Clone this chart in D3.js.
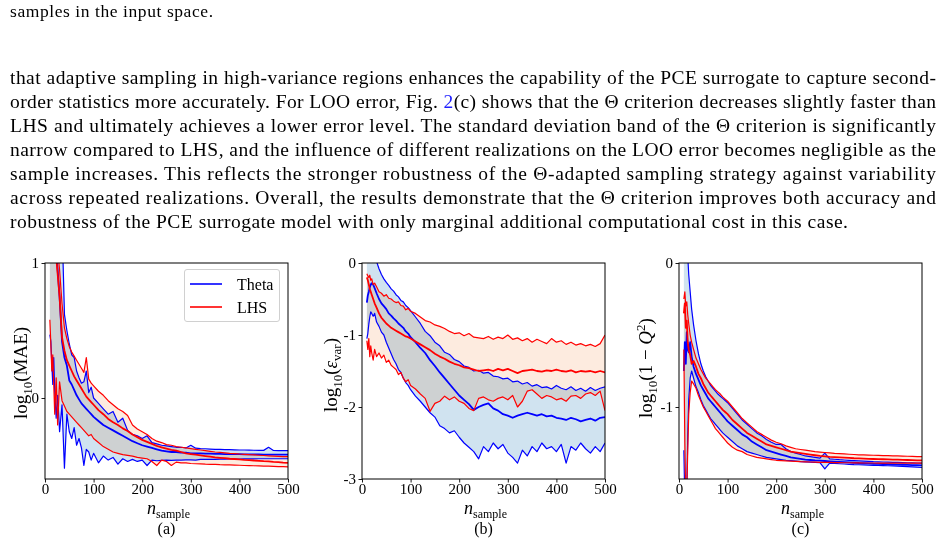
<!DOCTYPE html>
<html>
<head>
<meta charset="utf-8">
<script src="https://cdn.jsdelivr.net/npm/d3@7"></script>
<style>
  body { margin: 0; background: #fff; }
  svg text { font-family: "Liberation Serif", "Times New Roman", serif; fill: #000; }
</style>
</head>
<body>
<svg id="fig" width="946" height="543"></svg>
<script>
// sample counts shared by every curve
const nSample = [10, 12, 14, 16, 18, 20, 23, 26, 30, 35, 40, 45, 50, 55, 60, 65, 70, 75, 80, 85, 90, 95, 100,
  110, 120, 130, 140, 150, 160, 170, 180, 190, 200,
  210, 220, 230, 240, 250, 260, 270, 280, 290, 300,
  310, 320, 330, 340, 350, 360, 370, 380, 390, 400,
  410, 420, 430, 440, 450, 460, 470, 480, 490, 500];
const xTicks = [0, 100, 200, 300, 400, 500];

// (a) log10(MAE)
const thetaUpA = [2.2, 2.1, 2.0, 1.9, 1.8, 1.7, 1.5, 1.35, 1.2, 1.3, 0.62, 0.5, 0.4, 0.32, 0.3, 0.2, 0.15, 0.11, 0.12, 0.2, 0.04, 0.08, 0.0,
  -0.04, -0.08, -0.12, -0.1, -0.18, -0.15, -0.24, -0.27, -0.28, -0.3,
  -0.28, -0.33, -0.34, -0.35, -0.355, -0.36, -0.365, -0.365, -0.37, -0.35,
  -0.372, -0.375, -0.376, -0.378, -0.38, -0.38, -0.382, -0.383, -0.384, -0.385,
  -0.385, -0.386, -0.387, -0.388, -0.388, -0.365, -0.389, -0.39, -0.39, -0.39];
const thetaMeanA = [1.6, 1.5, 1.45, 1.35, 1.3, 1.2, 1.1, 0.95, 0.75, 0.42, 0.3, 0.24, 0.13, 0.1, 0.06, 0.02, -0.01, -0.04, -0.06, -0.08, -0.1, -0.12, -0.14,
  -0.17, -0.2, -0.22, -0.24, -0.26, -0.28, -0.3, -0.32, -0.335, -0.35,
  -0.36, -0.37, -0.38, -0.39, -0.395, -0.4, -0.4, -0.405, -0.405, -0.41,
  -0.41, -0.41, -0.412, -0.412, -0.414, -0.414, -0.415, -0.415, -0.416, -0.416,
  -0.417, -0.417, -0.418, -0.418, -0.419, -0.419, -0.42, -0.42, -0.42, -0.42];
const thetaLoA = [0.47, 0.42, 0.25, 0.1, 0.3, 0.05, -0.15, 0.02, -0.25, -0.05, -0.52, -0.12, -0.25, -0.3, -0.22, -0.35, -0.3, -0.37, -0.5, -0.38, -0.4, -0.46, -0.41,
  -0.48, -0.43, -0.46, -0.44, -0.49, -0.45, -0.47, -0.455, -0.47, -0.46,
  -0.5, -0.46, -0.465, -0.462, -0.46, -0.462, -0.46, -0.46, -0.458, -0.458,
  -0.46, -0.455, -0.455, -0.455, -0.454, -0.453, -0.453, -0.452, -0.452, -0.452,
  -0.451, -0.451, -0.451, -0.45, -0.45, -0.45, -0.45, -0.45, -0.45, -0.45];
const lhsUpA = [2.2, 2.0, 1.8, 1.6, 1.45, 1.35, 1.2, 1.1, 0.95, 0.7, 0.52, 0.44, 0.38, 0.34, 0.31, 0.28, 0.25, 0.22, 0.19, 0.3, 0.14, 0.11, 0.09,
  0.05, 0.02, -0.02, -0.05, -0.08, -0.1, -0.13, -0.2, -0.23, -0.25,
  -0.27, -0.3, -0.32, -0.33, -0.345, -0.35, -0.36, -0.365, -0.37, -0.375,
  -0.38, -0.385, -0.39, -0.395, -0.4, -0.403, -0.406, -0.41, -0.412, -0.415,
  -0.417, -0.42, -0.422, -0.424, -0.426, -0.428, -0.43, -0.432, -0.434, -0.435];
const lhsMeanA = [1.9, 1.7, 1.55, 1.4, 1.3, 1.2, 1.05, 0.92, 0.75, 0.45, 0.35, 0.28, 0.24, 0.2, 0.16, 0.13, 0.1, 0.07, 0.04, 0.01, -0.01, -0.03, -0.05,
  -0.09, -0.12, -0.155, -0.18, -0.2, -0.225, -0.245, -0.27, -0.29, -0.31,
  -0.325, -0.34, -0.355, -0.365, -0.375, -0.385, -0.39, -0.4, -0.41, -0.415,
  -0.42, -0.425, -0.43, -0.435, -0.44, -0.443, -0.446, -0.45, -0.452, -0.455,
  -0.458, -0.46, -0.463, -0.465, -0.468, -0.47, -0.473, -0.475, -0.478, -0.48];
const lhsLoA = [0.58, 0.4, 0.2, 0.32, 0.1, -0.12, 0.15, -0.2, 0.12, -0.02, -0.06, -0.1, -0.12, -0.14, -0.16, -0.18, -0.2, -0.22, -0.24, -0.26, -0.28, -0.27, -0.3,
  -0.33, -0.36, -0.38, -0.4, -0.41, -0.42, -0.425, -0.43, -0.44, -0.445,
  -0.45, -0.47, -0.5, -0.46, -0.47, -0.5, -0.475, -0.48, -0.48, -0.485,
  -0.487, -0.488, -0.49, -0.491, -0.492, -0.494, -0.495, -0.496, -0.497, -0.498,
  -0.5, -0.501, -0.502, -0.503, -0.504, -0.505, -0.506, -0.508, -0.509, -0.51];

// (b) log10(eps_var)
const thetaUpB = [0.1, 0.08, 0.12, 0.06, 0.1, 0.05, 0.08, 0.03, 0.02, -0.08, -0.16, -0.22, -0.27, -0.31, -0.36, -0.39, -0.44, -0.47, -0.52, -0.54, -0.59, -0.62, -0.66,
  -0.75, -0.84, -0.95, -1.01, -1.1, -1.15, -1.24, -1.27, -1.34, -1.37,
  -1.43, -1.45, -1.5, -1.49, -1.53, -1.52, -1.57, -1.58, -1.61, -1.6,
  -1.65, -1.64, -1.68, -1.66, -1.71, -1.69, -1.73, -1.72, -1.75, -1.7,
  -1.74, -1.76, -1.72, -1.77, -1.74, -1.78, -1.73, -1.77, -1.74, -1.72];
const thetaMeanB = [-0.55, -0.45, -0.4, -0.34, -0.3, -0.28, -0.3, -0.35, -0.42, -0.5, -0.56, -0.6, -0.64, -0.7, -0.73, -0.77, -0.8, -0.84, -0.87, -0.9, -0.95, -0.98, -1.03,
  -1.1, -1.18, -1.25, -1.35, -1.43, -1.52, -1.6, -1.68, -1.76, -1.84,
  -1.9, -1.96, -2.04, -2.0, -1.97, -1.95, -2.02, -2.05, -2.1, -2.12,
  -2.15, -2.12, -2.1, -2.08, -2.1, -2.12, -2.1, -2.13, -2.12, -2.15,
  -2.16, -2.18, -2.15, -2.17, -2.2, -2.18, -2.16, -2.19, -2.15, -2.14];
const thetaLoB = [-1.05, -0.98, -0.85, -0.75, -0.68, -0.7, -0.74, -0.7, -0.82, -0.88, -0.96, -1.0, -1.1, -1.18, -1.26, -1.34, -1.4, -1.48, -1.52, -1.6, -1.66, -1.7, -1.76,
  -1.85, -1.92, -2.0, -2.08, -2.14, -2.26, -2.3, -2.36, -2.33, -2.42,
  -2.5, -2.56, -2.62, -2.72, -2.55, -2.62, -2.5, -2.58, -2.52, -2.64,
  -2.7, -2.78, -2.6, -2.68, -2.55, -2.62, -2.5, -2.58, -2.55, -2.62,
  -2.52, -2.78, -2.55, -2.6, -2.5, -2.58, -2.64, -2.55, -2.62, -2.5];
const lhsUpB = [-0.15, -0.18, -0.2, -0.17, -0.24, -0.22, -0.3, -0.28, -0.33, -0.4, -0.42, -0.46, -0.44, -0.49, -0.5, -0.53, -0.55, -0.54, -0.59, -0.6, -0.65, -0.63, -0.67,
  -0.7, -0.75, -0.8, -0.82, -0.86, -0.88, -0.91, -0.95, -0.98, -0.97,
  -1.01, -0.98, -1.03, -1.04, -1.05, -1.02, -1.06, -1.03, -1.05, -1.0,
  -1.06, -1.04, -1.08, -1.05, -1.1, -1.06, -1.09, -1.12, -1.05, -1.1,
  -1.08, -1.13, -1.1, -1.14, -1.12, -1.15, -1.13, -1.16, -1.12, -1.0];
const lhsMeanB = [-0.2, -0.24, -0.3, -0.36, -0.4, -0.44, -0.5, -0.56, -0.62, -0.7, -0.76, -0.8, -0.84, -0.87, -0.9, -0.92, -0.94, -0.96, -0.98, -1.0, -1.02, -1.03, -1.05,
  -1.09, -1.13, -1.17, -1.21, -1.26, -1.3, -1.33, -1.37, -1.4, -1.42,
  -1.45, -1.46, -1.48, -1.5, -1.49, -1.48, -1.5, -1.47, -1.49, -1.47,
  -1.5, -1.53, -1.5, -1.49, -1.48, -1.5, -1.51, -1.49, -1.5, -1.48,
  -1.5, -1.51, -1.49, -1.52, -1.5, -1.51, -1.5, -1.52, -1.5, -1.52];
const lhsLoB = [-1.08, -1.2, -1.05, -1.3, -1.15, -1.25, -1.35, -1.2, -1.3, -1.25, -1.32, -1.28, -1.38, -1.35, -1.42, -1.45, -1.48, -1.55, -1.52, -1.6, -1.65, -1.62, -1.7,
  -1.75, -1.82, -1.88, -2.06, -1.95, -1.92, -1.85, -1.9, -1.86, -1.92,
  -1.95, -2.02, -2.05, -1.88, -1.86, -1.9, -1.92, -1.88, -1.86, -1.9,
  -1.84, -2.0, -1.92, -1.78, -1.76, -1.82, -1.88, -1.84, -1.86, -1.9,
  -1.88, -1.92, -1.85, -1.84, -1.88, -1.82, -1.8, -1.84, -1.78, -2.05];

// (c) log10(1 - Q^2)
const thetaUpC = [0.3, 0.3, 0.25, 0.15, 0.05, -0.08, -0.2, -0.32, -0.43, -0.54, -0.63, -0.7, -0.75, -0.79, -0.82, -0.85, -0.87, -0.89, -0.91, -0.925, -0.94, -0.955, -0.97,
  -1.01, -1.05, -1.09, -1.12, -1.15, -1.18, -1.2, -1.225, -1.245, -1.26,
  -1.26, -1.29, -1.31, -1.32, -1.33, -1.34, -1.345, -1.35, -1.355, -1.32,
  -1.36, -1.363, -1.366, -1.368, -1.37, -1.372, -1.374, -1.376, -1.378, -1.38,
  -1.381, -1.382, -1.383, -1.384, -1.385, -1.386, -1.387, -1.388, -1.389, -1.39];
const thetaMeanC = [-0.75, -0.55, -0.7, -0.48, -0.6, -0.62, -0.55, -0.65, -0.72, -0.77, -0.81, -0.85, -0.88, -0.91, -0.94, -0.96, -0.98, -1.0, -1.02, -1.04, -1.06, -1.08, -1.1,
  -1.13, -1.16, -1.19, -1.21, -1.24, -1.26, -1.28, -1.3, -1.31, -1.32,
  -1.33, -1.34, -1.35, -1.355, -1.36, -1.365, -1.368, -1.371, -1.373, -1.375,
  -1.377, -1.379, -1.381, -1.383, -1.385, -1.387, -1.389, -1.39, -1.392, -1.394,
  -1.395, -1.396, -1.397, -1.398, -1.4, -1.401, -1.402, -1.403, -1.404, -1.405];
const thetaLoC = [-1.3, -1.65, -1.7, -1.6, -1.2, -0.95, -0.8, -0.75, -0.8, -0.86, -0.9, -0.95, -0.99, -1.02, -1.05, -1.08, -1.1, -1.12, -1.14, -1.16, -1.18, -1.195, -1.21,
  -1.24, -1.27, -1.29, -1.31, -1.32, -1.33, -1.34, -1.35, -1.355, -1.36,
  -1.365, -1.37, -1.373, -1.376, -1.379, -1.381, -1.383, -1.385, -1.387, -1.43,
  -1.39, -1.392, -1.394, -1.396, -1.398, -1.4, -1.401, -1.402, -1.403, -1.405,
  -1.406, -1.407, -1.408, -1.409, -1.41, -1.412, -1.414, -1.416, -1.418, -1.42];
const lhsUpC = [-0.25, -0.2, -0.3, -0.27, -0.36, -0.42, -0.5, -0.55, -0.6, -0.66, -0.7, -0.74, -0.77, -0.8, -0.82, -0.84, -0.86, -0.88, -0.895, -0.91, -0.93, -0.945, -0.96,
  -1.0, -1.04, -1.08, -1.11, -1.14, -1.17, -1.19, -1.21, -1.23, -1.245,
  -1.255, -1.27, -1.28, -1.29, -1.295, -1.3, -1.305, -1.31, -1.313, -1.316,
  -1.319, -1.322, -1.324, -1.326, -1.328, -1.33, -1.332, -1.333, -1.334, -1.335,
  -1.336, -1.337, -1.338, -1.339, -1.34, -1.341, -1.342, -1.343, -1.344, -1.345];
const lhsMeanC = [-0.35, -0.28, -0.45, -0.4, -0.55, -0.6, -0.64, -0.7, -0.68, -0.72, -0.77, -0.8, -0.84, -0.87, -0.9, -0.92, -0.94, -0.96, -0.98, -1.0, -1.02, -1.035, -1.05,
  -1.09, -1.12, -1.15, -1.18, -1.2, -1.22, -1.24, -1.26, -1.27, -1.28,
  -1.29, -1.3, -1.31, -1.315, -1.32, -1.325, -1.33, -1.335, -1.34, -1.343,
  -1.346, -1.348, -1.35, -1.352, -1.354, -1.356, -1.357, -1.358, -1.36, -1.361,
  -1.362, -1.363, -1.364, -1.365, -1.366, -1.367, -1.368, -1.369, -1.37, -1.37];
const lhsLoC = [-0.6, -1.25, -1.65, -1.6, -1.3, -1.05, -0.9, -0.82, -0.84, -0.87, -0.92, -0.96, -1.0, -1.03, -1.06, -1.09, -1.12, -1.15, -1.17, -1.19, -1.21, -1.23, -1.25,
  -1.28, -1.3, -1.31, -1.33, -1.34, -1.35, -1.355, -1.36, -1.365, -1.37,
  -1.372, -1.374, -1.376, -1.378, -1.38, -1.381, -1.382, -1.383, -1.384, -1.385,
  -1.385, -1.386, -1.386, -1.387, -1.387, -1.388, -1.388, -1.389, -1.389, -1.389,
  -1.39, -1.39, -1.39, -1.39, -1.39, -1.39, -1.39, -1.39, -1.39, -1.39];

const legendNames = ["Theta", "LHS"];

const topLine = "samples in the input space.";
// § marks the hyperlinked figure number
const bodyLines = [
  "that adaptive sampling in high-variance regions enhances the capability of the PCE surrogate to capture second-",
  "order statistics more accurately. For LOO error, Fig. §2§(c) shows that the Θ criterion decreases slightly faster than",
  "LHS and ultimately achieves a lower error level.  The standard deviation band of the Θ criterion is significantly",
  "narrow compared to LHS, and the influence of different realizations on the LOO error becomes negligible as the",
  "sample increases.  This reflects the stronger robustness of the Θ-adapted sampling strategy against variability",
  "across repeated realizations.  Overall, the results demonstrate that the Θ criterion improves both accuracy and",
  "robustness of the PCE surrogate model with only marginal additional computational cost in this case."
];

const blue = "#0000ff", red = "#ff0000";
const blueBand = "#d0e3f0", redBand = "#fdebdf";
const plotTop = 263, plotBottom = 479;

const svg = d3.select("#fig");
svg.append("rect").attr("width", 946).attr("height", 543).attr("fill", "#fff");

// ---- paragraph text ----
svg.append("text")
  .attr("x", 10).attr("y", 17)
  .attr("font-size", 17.5)
  .attr("textLength", 203).attr("lengthAdjust", "spacing")
  .text(topLine);

bodyLines.forEach((line, i) => {
  const t = svg.append("text")
    .attr("x", 10).attr("y", 84 + 24 * i)
    .attr("font-size", 19.5)
    .attr("textLength", i < 6 ? 926 : 838)
    .attr("lengthAdjust", "spacing");
  line.split("§").forEach((part, j) => {
    t.append("tspan").style("fill", j % 2 ? "#1f1fff" : "#000").text(part);
  });
});

// ---- panels ----
const panels = [
  { id: "a", left: 45, right: 288, yDomain: [-0.6, 1], yTicks: [0, 1],
    theta: [thetaUpA, thetaMeanA, thetaLoA], lhs: [lhsUpA, lhsMeanA, lhsLoA],
    ylabX: 27, ylabY: 373 },
  { id: "b", left: 362, right: 605, yDomain: [-3, 0], yTicks: [-3, -2, -1, 0],
    theta: [thetaUpB, thetaMeanB, thetaLoB], lhs: [lhsUpB, lhsMeanB, lhsLoB],
    ylabX: 337, ylabY: 375 },
  { id: "c", left: 679, right: 922, yDomain: [-1.5, 0], yTicks: [-1, 0],
    theta: [thetaUpC, thetaMeanC, thetaLoC], lhs: [lhsUpC, lhsMeanC, lhsLoC],
    ylabX: 652, ylabY: 368 }
];

panels.forEach(p => {
  const x = d3.scaleLinear().domain([0, 500]).range([p.left, p.right]);
  const y = d3.scaleLinear().domain(p.yDomain).range([plotBottom, plotTop]);
  const g = svg.append("g");

  g.append("clipPath").attr("id", "clip-" + p.id)
    .append("rect")
    .attr("x", p.left).attr("y", plotTop)
    .attr("width", p.right - p.left).attr("height", plotBottom - plotTop);

  const plot = g.append("g").attr("clip-path", `url(#clip-${p.id})`);

  const band = (up, lo) => d3.area()
    .x((d, i) => x(nSample[i]))
    .y0((d, i) => y(lo[i]))
    .y1((d, i) => y(up[i]))(nSample);
  const curve = vals => d3.line()
    .x((d, i) => x(nSample[i]))
    .y((d, i) => y(vals[i]))(nSample);

  plot.append("path").attr("d", band(p.theta[0], p.theta[2]))
    .attr("fill", blueBand).style("mix-blend-mode", "multiply");
  plot.append("path").attr("d", band(p.lhs[0], p.lhs[2]))
    .attr("fill", redBand).style("mix-blend-mode", "multiply");

  [[p.theta, blue], [p.lhs, red]].forEach(([set, col]) => {
    set.forEach((vals, k) => {
      plot.append("path").attr("d", curve(vals))
        .attr("fill", "none").attr("stroke", col)
        .attr("stroke-width", k === 1 ? 1.8 : 1.2)
        .attr("stroke-linejoin", "round");
    });
  });

  // axes
  const xa = g.append("g").attr("transform", `translate(0,${plotBottom})`)
    .call(d3.axisBottom(x).tickValues(xTicks).tickSize(3.5).tickPadding(1).tickSizeOuter(0));
  const ya = g.append("g").attr("transform", `translate(${p.left},0)`)
    .call(d3.axisLeft(y).tickValues(p.yTicks).tickSize(3.5).tickPadding(2.5).tickSizeOuter(0)
      .tickFormat(d => d < 0 ? "-" + Math.abs(d) : String(d)));
  [xa, ya].forEach(a => {
    a.select(".domain").remove();
    a.selectAll("line").attr("stroke", "#000").attr("stroke-width", 0.9);
    a.selectAll("text").attr("font-size", 15)
      .attr("font-family", "'Liberation Serif', serif").style("fill", "#000");
  });

  g.append("rect")
    .attr("x", p.left).attr("y", plotTop)
    .attr("width", p.right - p.left).attr("height", plotBottom - plotTop)
    .attr("fill", "none").attr("stroke", "#000").attr("stroke-width", 1);

  // x label and caption
  const cx = (p.left + p.right) / 2;
  const xl = g.append("text").attr("x", cx + 2).attr("y", 514).attr("text-anchor", "middle");
  xl.append("tspan").attr("font-size", 18).attr("font-style", "italic").text("n");
  xl.append("tspan").attr("font-size", 12).attr("dy", 3.5).text("sample");
  g.append("text").attr("x", cx).attr("y", 534).attr("text-anchor", "middle")
    .attr("font-size", 16).text(`(${p.id})`);

  // y label
  const yl = g.append("text")
    .attr("transform", `translate(${p.ylabX},${p.ylabY}) rotate(-90)`)
    .attr("text-anchor", "middle").attr("font-size", 19);
  yl.append("tspan").text("log");
  yl.append("tspan").attr("font-size", 13).attr("dy", 5).text("10");
  if (p.id === "a") {
    yl.append("tspan").attr("dy", -5).text("(MAE)");
  } else if (p.id === "b") {
    yl.append("tspan").attr("dy", -5).text("(");
    yl.append("tspan").attr("font-style", "italic").text("ε");
    yl.append("tspan").attr("font-size", 13).attr("dy", 4).text("var");
    yl.append("tspan").attr("dy", -4).text(")");
  } else {
    yl.append("tspan").attr("dy", -5).text("(1 − ");
    yl.append("tspan").attr("font-style", "italic").text("Q");
    yl.append("tspan").attr("font-size", 13).attr("dy", -7).text("2");
    yl.append("tspan").attr("dy", 7).text(")");
  }

  // legend only in panel (a)
  if (p.id === "a") {
    const lg = g.append("g");
    lg.append("rect").attr("x", 184.5).attr("y", 269.5).attr("width", 95).attr("height", 52)
      .attr("rx", 2.5).attr("fill", "#fff").attr("fill-opacity", 0.85)
      .attr("stroke", "#d0d0d0").attr("stroke-width", 1);
    [[legendNames[0], blue, 284], [legendNames[1], red, 307]].forEach(([name, col, ly]) => {
      lg.append("line").attr("x1", 190).attr("x2", 222).attr("y1", ly).attr("y2", ly)
        .attr("stroke", col).attr("stroke-width", 1.6);
      lg.append("text").attr("x", 237).attr("y", ly + 5.5).attr("font-size", 16).text(name);
    });
  }
});
</script>
</body>
</html>
